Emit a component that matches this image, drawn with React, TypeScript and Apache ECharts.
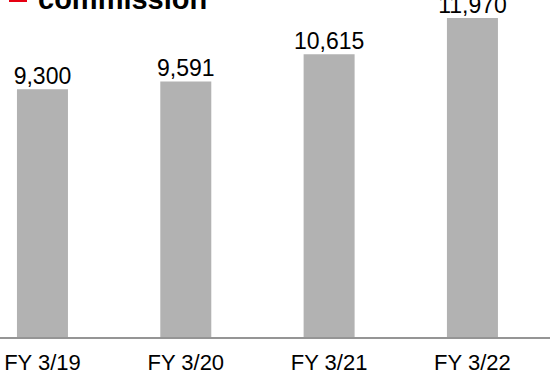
import React, { useEffect, useRef } from "react";
import * as echarts from "echarts";

// Fiscal years and commission totals
const categories = ["FY 3/19", "FY 3/20", "FY 3/21", "FY 3/22"];
const commission = [9300, 9591, 10615, 11970];
const titleText = "commission";

// The canvas is a bit larger than the visible frame so the first and last
// bands and the heading can run past its edges.
const OX = 40;
const OY = 30;
const W = 640;
const H = 403;

export default function App() {
  const ref = useRef<HTMLDivElement>(null);

  useEffect(() => {
    if (!ref.current) return;
    const chart = echarts.init(ref.current, null, { renderer: "svg" });
    const font = "'Liberation Sans', Arial, sans-serif";
    chart.setOption({
      animation: false,
      textStyle: { fontFamily: font },
      grid: { left: 10.8, right: 55.9, top: OY, bottom: 36, containLabel: false },
      xAxis: {
        type: "category",
        data: categories,
        axisLine: { show: false },
        axisTick: { show: false },
        axisLabel: { color: "#000", fontSize: 22, margin: 14, fontFamily: font },
      },
      yAxis: {
        type: "value",
        min: 0,
        max: 12650,
        show: false,
        splitLine: { show: false },
      },
      series: [
        {
          type: "bar",
          data: commission,
          barWidth: 51,
          itemStyle: { color: "#b2b2b2" },
          label: {
            show: true,
            position: "top",
            distance: 2,
            color: "#000",
            fontSize: 23,
            fontFamily: font,
            formatter: (p: any) => Number(p.value).toLocaleString("en-US"),
          },
        },
      ],
      graphic: [
        {
          type: "line",
          shape: { x1: OX, y1: H - 35, x2: OX + 550, y2: H - 35 },
          style: { stroke: "#959595", lineWidth: 2 },
        },
        {
          type: "rect",
          shape: { x: OX + 9, y: OY - 16, width: 18, height: 18 },
          style: { fill: "#e60012" },
        },
        {
          type: "text",
          x: OX + 38,
          y: OY - 1,
          style: {
            text: titleText,
            fill: "#000",
            font: "bold 29px 'Liberation Sans', Arial, sans-serif",
            verticalAlign: "middle",
          },
        },
      ],
    });
    return () => chart.dispose();
  }, []);

  return (
    <div style={{ position: "fixed", left: 0, top: 0, width: 550, height: 373, overflow: "hidden", background: "#fff" }}>
      <div ref={ref} style={{ position: "absolute", left: -OX, top: -OY, width: W, height: H }} />
    </div>
  );
}
